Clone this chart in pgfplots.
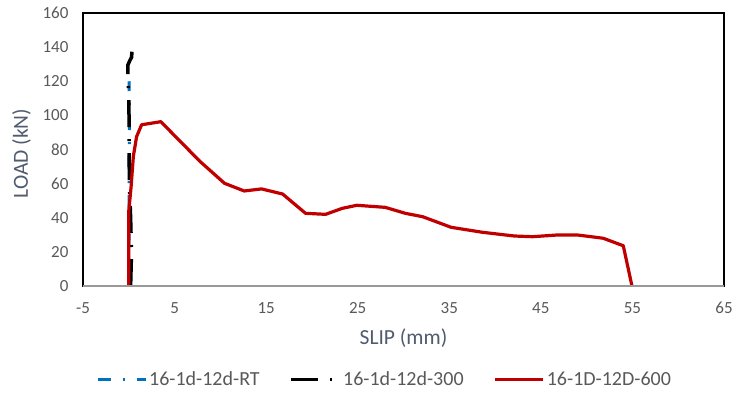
\documentclass[border=0pt]{standalone}
\usepackage{fontspec}
\setmainfont{Carlito}
\usepackage{pgfplots}
\pgfplotsset{compat=1.18}
\definecolor{tickgray}{HTML}{595959}
\definecolor{labgray}{HTML}{4F5B6E}
\definecolor{rtblue}{HTML}{0070C0}
\definecolor{darkred}{HTML}{C00000}
\begin{document}
\begin{tikzpicture}
\path[use as bounding box] (-83pt,-108pt) rectangle (651pt,286pt);
\begin{axis}[
  at={(0pt,0pt)}, anchor=south west,
  scale only axis, width=641pt, height=273pt,
  xmin=-5, xmax=65, ymin=0, ymax=160,
  xtick={-5,5,...,65}, ytick={0,20,...,160},
  major tick length=0pt,
  axis line style={black, line width=2.2pt},
  tick label style={font=\fontsize{17}{19}\selectfont, text=tickgray},
  /pgf/number format/assume math mode=true,
  xticklabel style={anchor=center, yshift=-22pt},
  yticklabel style={anchor=east, xshift=-11pt},
  xlabel={SLIP (mm)}, ylabel={LOAD (kN)},
  xlabel style={font=\fontsize{21.5}{24}\selectfont, text=labgray, at={(axis description cs:0.5,0)}, anchor=center, yshift=-52pt},
  ylabel style={font=\fontsize{21.5}{24}\selectfont, text=labgray, at={(axis description cs:0,0.5)}, anchor=center, yshift=61.5pt, xshift=-4pt},
  legend style={draw=none, fill=none, at={(axis description cs:0,0)}, anchor=west, xshift=10pt, yshift=-93.5pt,
    font=\fontsize{20}{22}\selectfont, text=tickgray, nodes={inner xsep=2pt},
    /tikz/every even column/.append style={column sep=28pt}},
  legend columns=3,
  legend image code/.code={\draw[#1] (0pt,0pt) -- (48pt,0pt);},
  clip=false,
]
\addplot[rtblue, line width=3pt, dash pattern=on 13pt off 12pt on 2pt off 12pt] coordinates {
(0,0) (0.02,20) (0.03,40) (0.05,60) (0.05,80) (0.06,100) (0.05,110) (0.04,120)};
\addlegendentry{16-1d-12d-RT}
\addplot[black, line width=3.5pt, dash pattern=on 27pt off 12pt on 2pt off 12pt] coordinates {
(0.2,0) (0.25,10) (0.3,20) (0.25,30) (0.2,40) (0.1,55) (0.05,70) (0.05,90) (0.0,110) (-0.1,125) (-0.1,129.5) (0.1,132) (0.3,134) (0.35,137.3)};
\addlegendentry{16-1d-12d-300}
\addplot[darkred, line width=3.2pt, line join=round] coordinates {
(0,0) (0,44) (0.25,58) (0.5,76) (0.85,87.5) (1.4,94.5) (3.5,96.3)
(7.8,72.9) (10.45,60.2) (12.6,55.7) (14.5,56.9) (16.8,53.9) (19.3,42.6)
(21.5,42) (23.3,45.5) (24.9,47.3) (28.0,46.1) (30.2,42.6) (32.1,40.6)
(35.2,34.4) (38.6,31.5) (42.1,29.3) (44.1,28.9) (46.8,29.9) (49.0,29.9)
(51.8,28) (54.0,23.6) (54.95,0)};
\addlegendentry{16-1D-12D-600}
\draw[color=gray!80, line width=1.6pt] (rel axis cs:0,0) -- (rel axis cs:1,0);
\end{axis}
\end{tikzpicture}
\end{document}
